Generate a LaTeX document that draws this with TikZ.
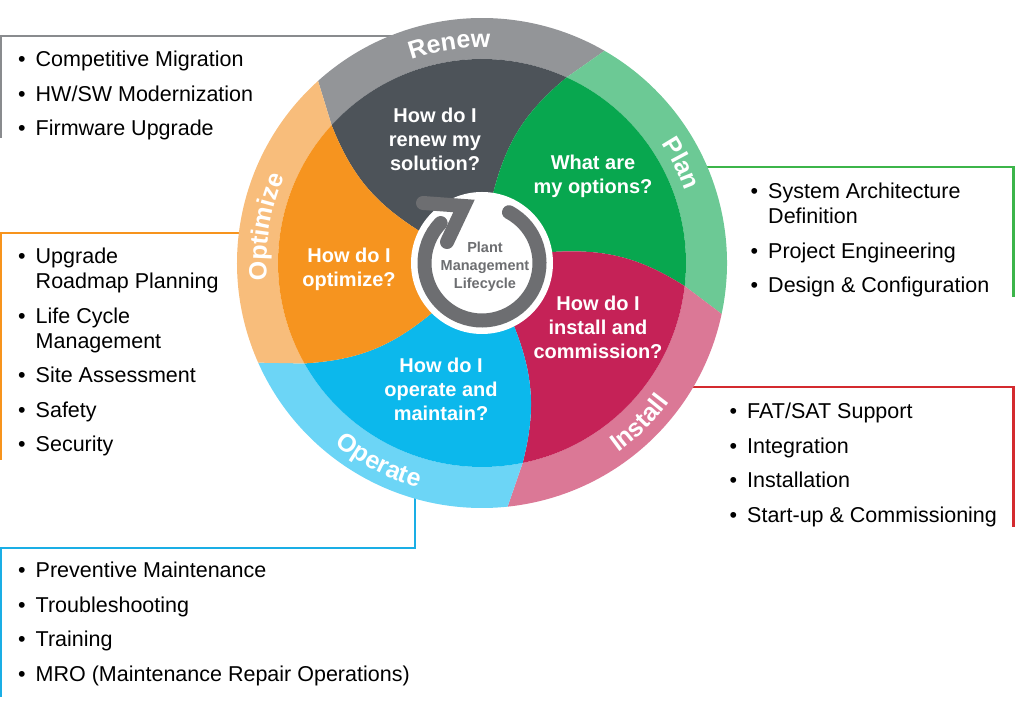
\documentclass[tikz,border=0pt]{standalone}
\usepackage{fontspec}
\setmainfont{Liberation Sans}
\usetikzlibrary{decorations.text}

\definecolor{renewring}{HTML}{939598}
\definecolor{renewfill}{HTML}{4D5359}
\definecolor{planring}{HTML}{6CC995}
\definecolor{planfill}{HTML}{08A74F}
\definecolor{installring}{HTML}{DB7896}
\definecolor{installfill}{HTML}{C52257}
\definecolor{operatering}{HTML}{6CD5F6}
\definecolor{operatefill}{HTML}{0CB8EC}
\definecolor{optimizering}{HTML}{F8BD7B}
\definecolor{optimizefill}{HTML}{F6941F}
\definecolor{cyclegray}{HTML}{6D6E71}
\definecolor{renewline}{HTML}{898B8E}
\definecolor{planline}{HTML}{3CB54A}
\definecolor{installline}{HTML}{D42A2F}
\definecolor{operateline}{HTML}{1AAEE5}
\definecolor{optimizeline}{HTML}{F7941D}

\newcommand{\ringfont}{\fontsize{25}{25}\selectfont\bfseries\color{white}}
\newcommand{\itemlist}[1]{\begin{tabular}[t]{@{}l@{\hspace{10pt}}l@{}}#1\end{tabular}}

\begin{document}
\begin{tikzpicture}[x=1pt, y=1pt,
    listtext/.style={anchor=base west, inner sep=0pt, font=\fontsize{21.5}{25}\selectfont},
    question/.style={white, align=center, inner sep=0pt, font=\fontsize{20}{24}\selectfont\bfseries},
    frameline/.style={line width=2.5pt},
    cyclearrow/.style={cyclegray, line width=14pt, line cap=round}]
    \useasboundingbox (0,0) rectangle (1021,712);

    % frames behind the wheel
    \draw [frameline, renewline] (1.2,574) -- (1.2,676) -- (420,676);
    \draw [frameline, optimizeline] (1.2,252) -- (1.2,479) -- (260,479);
    \draw [frameline, operateline] (415,230) -- (415,164) -- (1.2,164) -- (1.2,15);
    \draw [frameline, planline] (690,545) -- (1013.5,545) -- (1013.5,415);
    \draw [frameline, installline] (680,325) -- (1013.5,325) -- (1013.5,185);

    % lists
    \node [listtext] (renewlist) at (18,645) {\itemlist{%
        \textbullet & Competitive Migration\\[9.5pt]
        \textbullet & HW/SW Modernization\\[9.5pt]
        \textbullet & Firmware Upgrade}};
    \node [listtext] (optimizelist) at (18,448) {\itemlist{%
        \textbullet & Upgrade\\ & Roadmap Planning\\[9.5pt]
        \textbullet & Life Cycle\\ & Management\\[9.5pt]
        \textbullet & Site Assessment\\[9.5pt]
        \textbullet & Safety\\[9.5pt]
        \textbullet & Security}};
    \node [listtext] (operatelist) at (18,134) {\itemlist{%
        \textbullet & Preventive Maintenance\\[9.5pt]
        \textbullet & Troubleshooting\\[9.5pt]
        \textbullet & Training\\[9.5pt]
        \textbullet & MRO (Maintenance Repair Operations)}};
    \node [listtext] (planlist) at (750.5,513) {\itemlist{%
        \textbullet & System Architecture\\ & Definition\\[9.5pt]
        \textbullet & Project Engineering\\[9.5pt]
        \textbullet & Design \& Configuration}};
    \node [listtext] (installlist) at (729.5,293) {\itemlist{%
        \textbullet & FAT/SAT Support\\[9.5pt]
        \textbullet & Integration\\[9.5pt]
        \textbullet & Installation\\[9.5pt]
        \textbullet & Start-up \& Commissioning}};

    \begin{scope}[shift={(482,449)}]
        % ring and swirl segments
        \foreach \a/\rc/\fc in {132/renewring/renewfill, 60/planring/planfill,
            -12/installring/installfill, -84/operatering/operatefill,
            -156/optimizering/optimizefill}{
            \pgfmathsetmacro\b{\a-72}
            \fill [\rc] ({\a+5.5}:204) -- (\a:245)
                arc [start angle=\a, end angle=\b, radius=245]
                -- ({\b+5.5}:204)
                arc [start angle={\b+5.5}, end angle={\a+5.5}, radius=204] -- cycle;
            \fill [\fc] ({\a+21}:70) to [bend left=18] ({\a+5.5}:204)
                arc [start angle={\a+5.5}, end angle={\b+5.5}, radius=204]
                to [bend right=18] ({\b+21}:70) -- cycle;
        }
        % ring labels
        \path [decorate, decoration={text along path, text align=center,
            text={|\ringfont|Renew}}] (134.5:215.5) arc [start angle=134.5, end angle=62.5, radius=215.5];
        \path [decorate, decoration={text along path, text align=center,
            text={|\ringfont|Plan}}] (62.5:215.5) arc [start angle=62.5, end angle=-9.5, radius=215.5];
        \path [decorate, decoration={text along path, text align=center,
            text={|\ringfont|Optimize}}] (206.5:215.5) arc [start angle=206.5, end angle=134.5, radius=215.5];
        \path [decorate, decoration={text along path, text align=center,
            text={|\ringfont|Install}}] (-81.5:233.5) arc [start angle=-81.5, end angle=-9.5, radius=233.5];
        \path [decorate, decoration={text along path, text align=center,
            text={|\ringfont|Operate}}] (-153.5:233.5) arc [start angle=-153.5, end angle=-81.5, radius=233.5];

        % questions
        \node [question] (renewq) at (-47,124) {How do I\\renew my\\solution?};
        \node [question] (planq) at (111,87) {What are\\my options?};
        \node [question] (installq) at (116,-64) {How do I\\install and\\commission?};
        \node [question] (operateq) at (-41,-126) {How do I\\operate and\\maintain?};
        \node [question] (optimizeq) at (-133,-6) {How do I\\optimize?};

        % hub
        \fill [white] (0,0) circle [radius=71];
        \draw [cyclearrow] (62:57.5) arc [start angle=62, end angle=-224, radius=57.5];
        \draw [cyclearrow, line join=miter] (-59,60) -- (-18,57) -- (-35,21);
        \node [cyclegray, align=center, inner sep=0pt,
            font=\fontsize{14.5}{18}\selectfont\bfseries] (hub) at (3,-4)
            {Plant\\Management\\Lifecycle};
    \end{scope}
\end{tikzpicture}
\end{document}
